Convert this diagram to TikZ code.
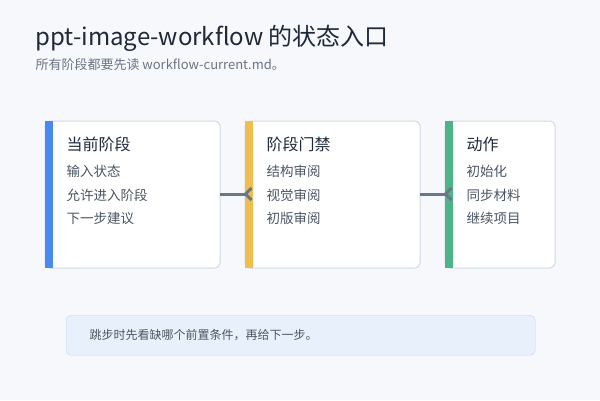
\documentclass[tikz,border=0pt]{standalone}
\usepackage{fontspec}
\setmainfont{Noto Sans CJK SC}
\usetikzlibrary{arrows.meta}
\definecolor{bg}{HTML}{F6F8FC}
\definecolor{cardb}{HTML}{D3D9E2}
\definecolor{txt}{HTML}{1F2937}
\definecolor{sub}{HTML}{6B7482}
\definecolor{body}{HTML}{4B5563}
\definecolor{cblue}{HTML}{4A8AF0}
\definecolor{cyel}{HTML}{F0BD4E}
\definecolor{cgreen}{HTML}{4FB38A}
\definecolor{line}{HTML}{6B7785}
\definecolor{notef}{HTML}{E8F0FB}
\definecolor{noteb}{HTML}{C8D5EA}
\begin{document}
\begin{tikzpicture}[x=1pt,y=-1pt,
  card/.style={draw=cardb,fill=white,rounded corners=5pt,line width=1pt},
  head/.style={anchor=west,font=\fontsize{16}{18}\selectfont,text=txt},
  item/.style={anchor=west,font=\fontsize{13.5}{15}\selectfont,text=body},
  conn/.style={draw=line,line width=3pt,-{Straight Barb[reversed,length=6pt,width=12pt,line width=3pt]}}]
\fill[bg] (0,0) rectangle (600,400);
\useasboundingbox (0,0) rectangle (600,400);
\node[anchor=west,font=\fontsize{24}{28}\selectfont,text=txt] (title) at (32,38) {ppt-image-workflow 的状态入口};
\node[anchor=west,font=\fontsize{13}{15}\selectfont,text=sub] (subt) at (32,65) {所有阶段都要先读 workflow-current.md。};
% cards
\path[card] (45,121) rectangle (220,268);
\fill[cblue] (45,121) rectangle (53,268);
\coordinate (c1e) at (220,194);
\path[card] (245,121) rectangle (420,268);
\fill[cyel] (245,121) rectangle (253,268);
\coordinate (c2w) at (253,194);
\coordinate (c2e) at (420,194);
\path[card] (445,121) rectangle (555,268);
\fill[cgreen] (445,121) rectangle (453,268);
\coordinate (c3w) at (453,194);
\node[head] (h1) at (63,144) {当前阶段};
\node[item] (a1) at (63,171) {输入状态};
\node[item] (a2) at (63,195) {允许进入阶段};
\node[item] (a3) at (63,218) {下一步建议};
\node[head] (h2) at (263,144) {阶段门禁};
\node[item] (b1) at (263,171) {结构审阅};
\node[item] (b2) at (263,195) {视觉审阅};
\node[item] (b3) at (263,218) {初版审阅};
\node[head] (h3) at (463,144) {动作};
\node[item] (d1) at (463,171) {初始化};
\node[item] (d2) at (463,195) {同步材料};
\node[item] (d3) at (463,218) {继续项目};
\draw[conn] (c1e) -- (c2w);
\draw[conn] (c2e) -- (c3w);
\node[draw=noteb,fill=notef,rounded corners=5pt,minimum width=469pt,minimum height=40pt,anchor=north west] (note) at (66,315) {};
\node[anchor=west,font=\fontsize{12}{14}\selectfont,text=body] (notet) at (86,335) {跳步时先看缺哪个前置条件，再给下一步。};
\end{tikzpicture}
\end{document}
